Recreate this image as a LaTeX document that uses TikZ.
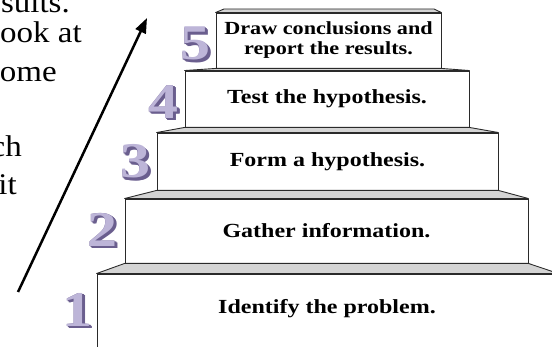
\documentclass[tikz,border=0pt]{standalone}
\usepackage{fontspec}
\setmainfont{Liberation Serif}[FakeStretch=1.2]
\newfontfamily\leftfont{Liberation Serif}[FakeStretch=1.1]
\usetikzlibrary{arrows.meta}
\definecolor{lav}{HTML}{BDB5D8}
\definecolor{lavdark}{HTML}{6A5E8E}
\definecolor{treadgray}{HTML}{D4D4D4}
\definecolor{edgecol}{HTML}{2A2A2A}
% one extruded digit as a single text: dark copies behind, light face in front
\newcommand\dlayer[3]{\rlap{\kern#1pt\raisebox{-#2pt}{\textcolor{lavdark}{#3}}}}
\newcommand\extruded[1]{%
  \dlayer{3.5}{2.75}{#1}\dlayer{2.8}{2.2}{#1}\dlayer{2.1}{1.65}{#1}%
  \dlayer{1.4}{1.1}{#1}\dlayer{0.7}{0.55}{#1}\textcolor{lav}{#1}}
\begin{document}
\begin{tikzpicture}[x=1pt,y=-1pt,
  stepbox/.style={draw=edgecol, line width=0.9pt, fill=white, inner sep=0pt,
    font=\bfseries\fontsize{20}{22}\selectfont, align=center},
  steptext/.style={inner sep=0pt, font=\bfseries\fontsize{20}{22}\selectfont},
  treadfill/.style={draw=edgecol, line width=0.9pt, fill=treadgray, line join=round},
  digitnode/.style={inner sep=0pt, font=\bfseries\fontsize{50}{50}\selectfont},
  lefttext/.style={inner sep=0pt, anchor=base east, font=\leftfont\fontsize{30}{36}\selectfont},
  arrowline/.style={line width=2.5pt, -{Triangle[length=15pt,width=11pt]}}
]
\useasboundingbox (0,0) rectangle (552,347);
\clip (0,0) rectangle (552,347);

% left text (cut off at the left edge)
\node[lefttext] (l1) at (70,13) {sults.};
\node[lefttext] (l2) at (82,43) {ook at};
\node[lefttext] (l3) at (57,82) {ome};
\node[lefttext] (l4) at (22,157) {ch};
\node[lefttext] (l5) at (17,195) {it};

% stair boxes
\node[stepbox, minimum width=461, minimum height=86] (b1) at (327.5,317) {};
\node[stepbox, minimum width=403, minimum height=64] (b2) at (326.5,231) {Gather information.};
\node[stepbox, minimum width=341, minimum height=57] (b3) at (327.5,161.5) {Form a hypothesis.};
\node[stepbox, minimum width=284, minimum height=56] (b4) at (327,99) {Test the hypothesis.};
\node[stepbox, minimum width=225, minimum height=55,
      font=\bfseries\fontsize{18.5}{20}\selectfont] (b5) at (328.5,40.5)
      {Draw conclusions and\\report the results.};
\node[steptext] (t1) at (327,309) {Identify the problem.};

% treads
\coordinate (topl) at (224,9);
\coordinate (topr) at (434,9);
\path[treadfill] (b1.north west) -- (b2.south west) -- (b2.south east) -- (b1.north east) -- cycle;
\path[treadfill] (b2.north west) -- (b3.south west) -- (b3.south east) -- (b2.north east) -- cycle;
\path[treadfill] (b3.north west) -- (b4.south west) -- (b4.south east) -- (b3.north east) -- cycle;
\path[treadfill] (b4.north west) -- (b5.south west) -- (b5.south east) -- (b4.north east) -- cycle;
\path[treadfill] (b5.north west) -- (topl) -- (topr) -- (b5.north east) -- cycle;

% 3D digits
\node[digitnode] (d1) at (77,311) {\extruded{1}};
\node[digitnode] (d2) at (102,231) {\extruded{2}};
\node[digitnode] (d3) at (135,163) {\extruded{3}};
\node[digitnode] (d4) at (163,103) {\extruded{4}};
\node[digitnode] (d5) at (195,45) {\extruded{5}};

% arrow
\coordinate (as) at (18,292);
\coordinate (ae) at (147,18);
\draw[arrowline] (as) -- (ae);
\end{tikzpicture}
\end{document}
